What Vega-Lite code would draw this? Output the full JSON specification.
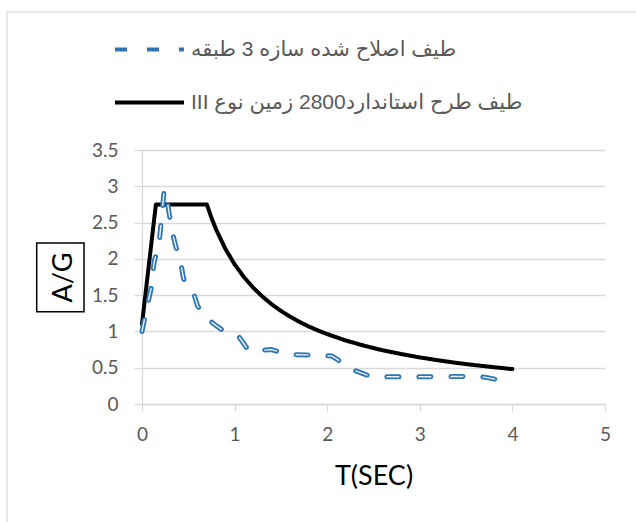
{
  "$schema": "https://vega.github.io/schema/vega-lite/v6.json",
  "width": 463,
  "height": 254,
  "autosize": {"type": "none"},
  "padding": {"left": 142, "top": 150, "right": 31, "bottom": 118},
  "background": "white",
  "config": {
    "view": {"stroke": null},
    "axisX": {
      "grid": false, "format": "~g", "labelFlush": false,
      "domainColor": "#d9d9d9", "domainWidth": 1.3,
      "tickColor": "#d9d9d9", "tickWidth": 1.3, "tickSize": 7,
      "labelFont": "Lato", "labelFontSize": 19, "labelColor": "#595959", "labelPadding": 14,
      "titleFont": "Lato", "titleFontSize": 27, "titleFontWeight": "normal", "titleColor": "#000000", "titlePadding": 19
    },
    "axisY": {
      "grid": true, "format": "~g", "labelFlush": false,
      "gridColor": "#d9d9d9", "gridWidth": 1.3,
      "domainColor": "#d9d9d9", "domainWidth": 1.3,
      "tickColor": "#d9d9d9", "tickWidth": 1.3, "tickSize": 8,
      "labelFont": "Lato", "labelFontSize": 19, "labelColor": "#595959", "labelPadding": 16,
      "titleFont": "Lato", "titleFontSize": 27, "titleFontWeight": "normal", "titleColor": "#000000", "titlePadding": 14
    },
    "legend": {
      "orient": "none",
      "legendX": -29,
      "legendY": -137,
      "direction": "vertical",
      "padding": 0,
      "symbolType": "stroke",
      "symbolSize": 4761,
      "symbolStrokeWidth": 4,
      "labelFont": "Liberation Sans, DejaVu Sans",
      "labelFontSize": 21,
      "labelColor": "#595959",
      "labelLimit": 600,
      "labelOffset": 5,
      "rowPadding": 6
    }
  },
  "datasets": {
    "spectra": [
      {"series": "طيف طرح استاندارد2800 زمین نوع III", "T": 0, "AG": 1.1},
      {"series": "طيف طرح استاندارد2800 زمین نوع III", "T": 0.15, "AG": 2.75},
      {"series": "طيف طرح استاندارد2800 زمین نوع III", "T": 0.7, "AG": 2.75},
      {"series": "طيف طرح استاندارد2800 زمین نوع III", "T": 0.75, "AG": 2.567},
      {"series": "طيف طرح استاندارد2800 زمین نوع III", "T": 0.8, "AG": 2.406},
      {"series": "طيف طرح استاندارد2800 زمین نوع III", "T": 0.9, "AG": 2.139},
      {"series": "طيف طرح استاندارد2800 زمین نوع III", "T": 1.0, "AG": 1.925},
      {"series": "طيف طرح استاندارد2800 زمین نوع III", "T": 1.1, "AG": 1.75},
      {"series": "طيف طرح استاندارد2800 زمین نوع III", "T": 1.2, "AG": 1.604},
      {"series": "طيف طرح استاندارد2800 زمین نوع III", "T": 1.3, "AG": 1.481},
      {"series": "طيف طرح استاندارد2800 زمین نوع III", "T": 1.4, "AG": 1.375},
      {"series": "طيف طرح استاندارد2800 زمین نوع III", "T": 1.5, "AG": 1.283},
      {"series": "طيف طرح استاندارد2800 زمین نوع III", "T": 1.6, "AG": 1.203},
      {"series": "طيف طرح استاندارد2800 زمین نوع III", "T": 1.7, "AG": 1.132},
      {"series": "طيف طرح استاندارد2800 زمین نوع III", "T": 1.8, "AG": 1.069},
      {"series": "طيف طرح استاندارد2800 زمین نوع III", "T": 1.9, "AG": 1.013},
      {"series": "طيف طرح استاندارد2800 زمین نوع III", "T": 2.0, "AG": 0.963},
      {"series": "طيف طرح استاندارد2800 زمین نوع III", "T": 2.2, "AG": 0.875},
      {"series": "طيف طرح استاندارد2800 زمین نوع III", "T": 2.4, "AG": 0.802},
      {"series": "طيف طرح استاندارد2800 زمین نوع III", "T": 2.6, "AG": 0.74},
      {"series": "طيف طرح استاندارد2800 زمین نوع III", "T": 2.8, "AG": 0.688},
      {"series": "طيف طرح استاندارد2800 زمین نوع III", "T": 3.0, "AG": 0.642},
      {"series": "طيف طرح استاندارد2800 زمین نوع III", "T": 3.2, "AG": 0.602},
      {"series": "طيف طرح استاندارد2800 زمین نوع III", "T": 3.4, "AG": 0.566},
      {"series": "طيف طرح استاندارد2800 زمین نوع III", "T": 3.6, "AG": 0.535},
      {"series": "طيف طرح استاندارد2800 زمین نوع III", "T": 3.8, "AG": 0.507},
      {"series": "طيف طرح استاندارد2800 زمین نوع III", "T": 4.0, "AG": 0.481},
      {"series": "طيف اصلاح شده سازه 3 طبقه", "T": 0, "AG": 1.0},
      {"series": "طيف اصلاح شده سازه 3 طبقه", "T": 0.07, "AG": 1.43},
      {"series": "طيف اصلاح شده سازه 3 طبقه", "T": 0.1, "AG": 1.6},
      {"series": "طيف اصلاح شده سازه 3 طبقه", "T": 0.13, "AG": 1.95},
      {"series": "طيف اصلاح شده سازه 3 طبقه", "T": 0.16, "AG": 2.1},
      {"series": "طيف اصلاح شده سازه 3 طبقه", "T": 0.18, "AG": 2.15},
      {"series": "طيف اصلاح شده سازه 3 طبقه", "T": 0.21, "AG": 2.55},
      {"series": "طيف اصلاح شده سازه 3 طبقه", "T": 0.24, "AG": 2.95},
      {"series": "طيف اصلاح شده سازه 3 طبقه", "T": 0.26, "AG": 2.92},
      {"series": "طيف اصلاح شده سازه 3 طبقه", "T": 0.29, "AG": 2.65},
      {"series": "طيف اصلاح شده سازه 3 طبقه", "T": 0.33, "AG": 2.35},
      {"series": "طيف اصلاح شده سازه 3 طبقه", "T": 0.37, "AG": 2.15},
      {"series": "طيف اصلاح شده سازه 3 طبقه", "T": 0.41, "AG": 2.0},
      {"series": "طيف اصلاح شده سازه 3 طبقه", "T": 0.45, "AG": 1.72},
      {"series": "طيف اصلاح شده سازه 3 طبقه", "T": 0.5, "AG": 1.64},
      {"series": "طيف اصلاح شده سازه 3 طبقه", "T": 0.55, "AG": 1.56},
      {"series": "طيف اصلاح شده سازه 3 طبقه", "T": 0.6, "AG": 1.35},
      {"series": "طيف اصلاح شده سازه 3 طبقه", "T": 0.7, "AG": 1.18},
      {"series": "طيف اصلاح شده سازه 3 طبقه", "T": 0.8, "AG": 1.08},
      {"series": "طيف اصلاح شده سازه 3 طبقه", "T": 0.9, "AG": 0.99},
      {"series": "طيف اصلاح شده سازه 3 طبقه", "T": 1.0, "AG": 0.95},
      {"series": "طيف اصلاح شده سازه 3 طبقه", "T": 1.05, "AG": 0.92},
      {"series": "طيف اصلاح شده سازه 3 طبقه", "T": 1.15, "AG": 0.74},
      {"series": "طيف اصلاح شده سازه 3 طبقه", "T": 1.3, "AG": 0.74},
      {"series": "طيف اصلاح شده سازه 3 طبقه", "T": 1.4, "AG": 0.75},
      {"series": "طيف اصلاح شده سازه 3 طبقه", "T": 1.5, "AG": 0.71},
      {"series": "طيف اصلاح شده سازه 3 طبقه", "T": 1.6, "AG": 0.68},
      {"series": "طيف اصلاح شده سازه 3 طبقه", "T": 1.9, "AG": 0.675},
      {"series": "طيف اصلاح شده سازه 3 طبقه", "T": 2.05, "AG": 0.66},
      {"series": "طيف اصلاح شده سازه 3 طبقه", "T": 2.15, "AG": 0.58},
      {"series": "طيف اصلاح شده سازه 3 طبقه", "T": 2.3, "AG": 0.46},
      {"series": "طيف اصلاح شده سازه 3 طبقه", "T": 2.45, "AG": 0.39},
      {"series": "طيف اصلاح شده سازه 3 طبقه", "T": 2.6, "AG": 0.375},
      {"series": "طيف اصلاح شده سازه 3 طبقه", "T": 3.0, "AG": 0.375},
      {"series": "طيف اصلاح شده سازه 3 طبقه", "T": 3.5, "AG": 0.38},
      {"series": "طيف اصلاح شده سازه 3 طبقه", "T": 3.7, "AG": 0.37},
      {"series": "طيف اصلاح شده سازه 3 طبقه", "T": 3.9, "AG": 0.32}
    ]
  },
  "layer": [
    {
      "data": {"name": "spectra"},
      "transform": [{"filter": {"field": "series", "equal": "طيف طرح استاندارد2800 زمین نوع III"}}],
      "mark": {"type": "line", "strokeWidth": 4, "strokeCap": "round", "strokeJoin": "round"},
      "encoding": {
        "x": {"field": "T", "type": "quantitative", "title": "T(SEC)", "scale": {"domain": [0, 5], "nice": false, "zero": false}, "axis": {"values": [0, 1, 2, 3, 4, 5]}},
        "y": {"field": "AG", "type": "quantitative", "title": "A/G", "scale": {"domain": [0, 3.5], "nice": false, "zero": false}, "axis": {"values": [0, 0.5, 1, 1.5, 2, 2.5, 3, 3.5]}},
        "color": {
          "field": "series", "type": "nominal",
          "scale": {"domain": ["طيف اصلاح شده سازه 3 طبقه", "طيف طرح استاندارد2800 زمین نوع III"], "range": ["#2E75B6", "#000000"]},
          "legend": {"title": null, "labelExpr": "'\u2067' + datum.label + '\u2069'"}
        },
        "strokeDash": {
          "field": "series", "type": "nominal",
          "scale": {"domain": ["طيف اصلاح شده سازه 3 طبقه", "طيف طرح استاندارد2800 زمین نوع III"], "range": [[12, 20], [1, 0]]},
          "legend": {"title": null, "labelExpr": "'\u2067' + datum.label + '\u2069'"}
        }
      }
    },
    {
      "data": {"name": "spectra"},
      "transform": [{"filter": {"field": "series", "equal": "طيف اصلاح شده سازه 3 طبقه"}}],
      "mark": {"type": "line", "strokeWidth": 5, "strokeCap": "round", "strokeJoin": "round"},
      "encoding": {
        "x": {"field": "T", "type": "quantitative", "title": "T(SEC)", "scale": {"domain": [0, 5], "nice": false, "zero": false}, "axis": {"values": [0, 1, 2, 3, 4, 5]}},
        "y": {"field": "AG", "type": "quantitative", "title": "A/G", "scale": {"domain": [0, 3.5], "nice": false, "zero": false}, "axis": {"values": [0, 0.5, 1, 1.5, 2, 2.5, 3, 3.5]}},
        "color": {
          "field": "series", "type": "nominal",
          "scale": {"domain": ["طيف اصلاح شده سازه 3 طبقه", "طيف طرح استاندارد2800 زمین نوع III"], "range": ["#2E75B6", "#000000"]},
          "legend": {"title": null, "labelExpr": "'\u2067' + datum.label + '\u2069'"}
        },
        "strokeDash": {
          "field": "series", "type": "nominal",
          "scale": {"domain": ["طيف اصلاح شده سازه 3 طبقه", "طيف طرح استاندارد2800 زمین نوع III"], "range": [[12, 20], [1, 0]]},
          "legend": {"title": null, "labelExpr": "'\u2067' + datum.label + '\u2069'"}
        }
      }
    },
    {
      "data": {"name": "spectra"},
      "transform": [{"filter": {"field": "series", "equal": "طيف اصلاح شده سازه 3 طبقه"}}],
      "mark": {"type": "line", "color": "#ffffff", "strokeWidth": 1.4, "strokeCap": "round", "strokeJoin": "round", "strokeDash": [12, 20], "opacity": 0.9},
      "encoding": {
        "x": {"field": "T", "type": "quantitative", "title": "T(SEC)", "scale": {"domain": [0, 5], "nice": false, "zero": false}, "axis": {"values": [0, 1, 2, 3, 4, 5]}},
        "y": {"field": "AG", "type": "quantitative", "title": "A/G", "scale": {"domain": [0, 3.5], "nice": false, "zero": false}, "axis": {"values": [0, 0.5, 1, 1.5, 2, 2.5, 3, 3.5]}}
      }
    },
    {
      "data": {"values": [{}]},
      "mark": {"type": "rect", "fill": null, "stroke": "#000000", "strokeWidth": 1.5, "clip": false},
      "encoding": {
        "x": {"datum": -1.137, "type": "quantitative", "title": "T(SEC)", "scale": {"domain": [0, 5], "nice": false, "zero": false}, "axis": {"values": [0, 1, 2, 3, 4, 5]}},
        "x2": {"datum": -0.626},
        "y": {"datum": 2.219, "type": "quantitative", "title": "A/G", "scale": {"domain": [0, 3.5], "nice": false, "zero": false}, "axis": {"values": [0, 0.5, 1, 1.5, 2, 2.5, 3, 3.5]}},
        "y2": {"datum": 1.272}
      }
    },
    {
      "data": {"values": [{}]},
      "mark": {"type": "rect", "fill": null, "stroke": "#d9d9d9", "strokeWidth": 1.3, "clip": false},
      "encoding": {
        "x": {"datum": -1.458, "type": "quantitative", "title": "T(SEC)", "scale": {"domain": [0, 5], "nice": false, "zero": false}, "axis": {"values": [0, 1, 2, 3, 4, 5]}},
        "x2": {"datum": 6.5},
        "y": {"datum": 5.402, "type": "quantitative", "title": "A/G", "scale": {"domain": [0, 3.5], "nice": false, "zero": false}, "axis": {"values": [0, 0.5, 1, 1.5, 2, 2.5, 3, 3.5]}},
        "y2": {"datum": -2.5}
      }
    }
  ]
}
